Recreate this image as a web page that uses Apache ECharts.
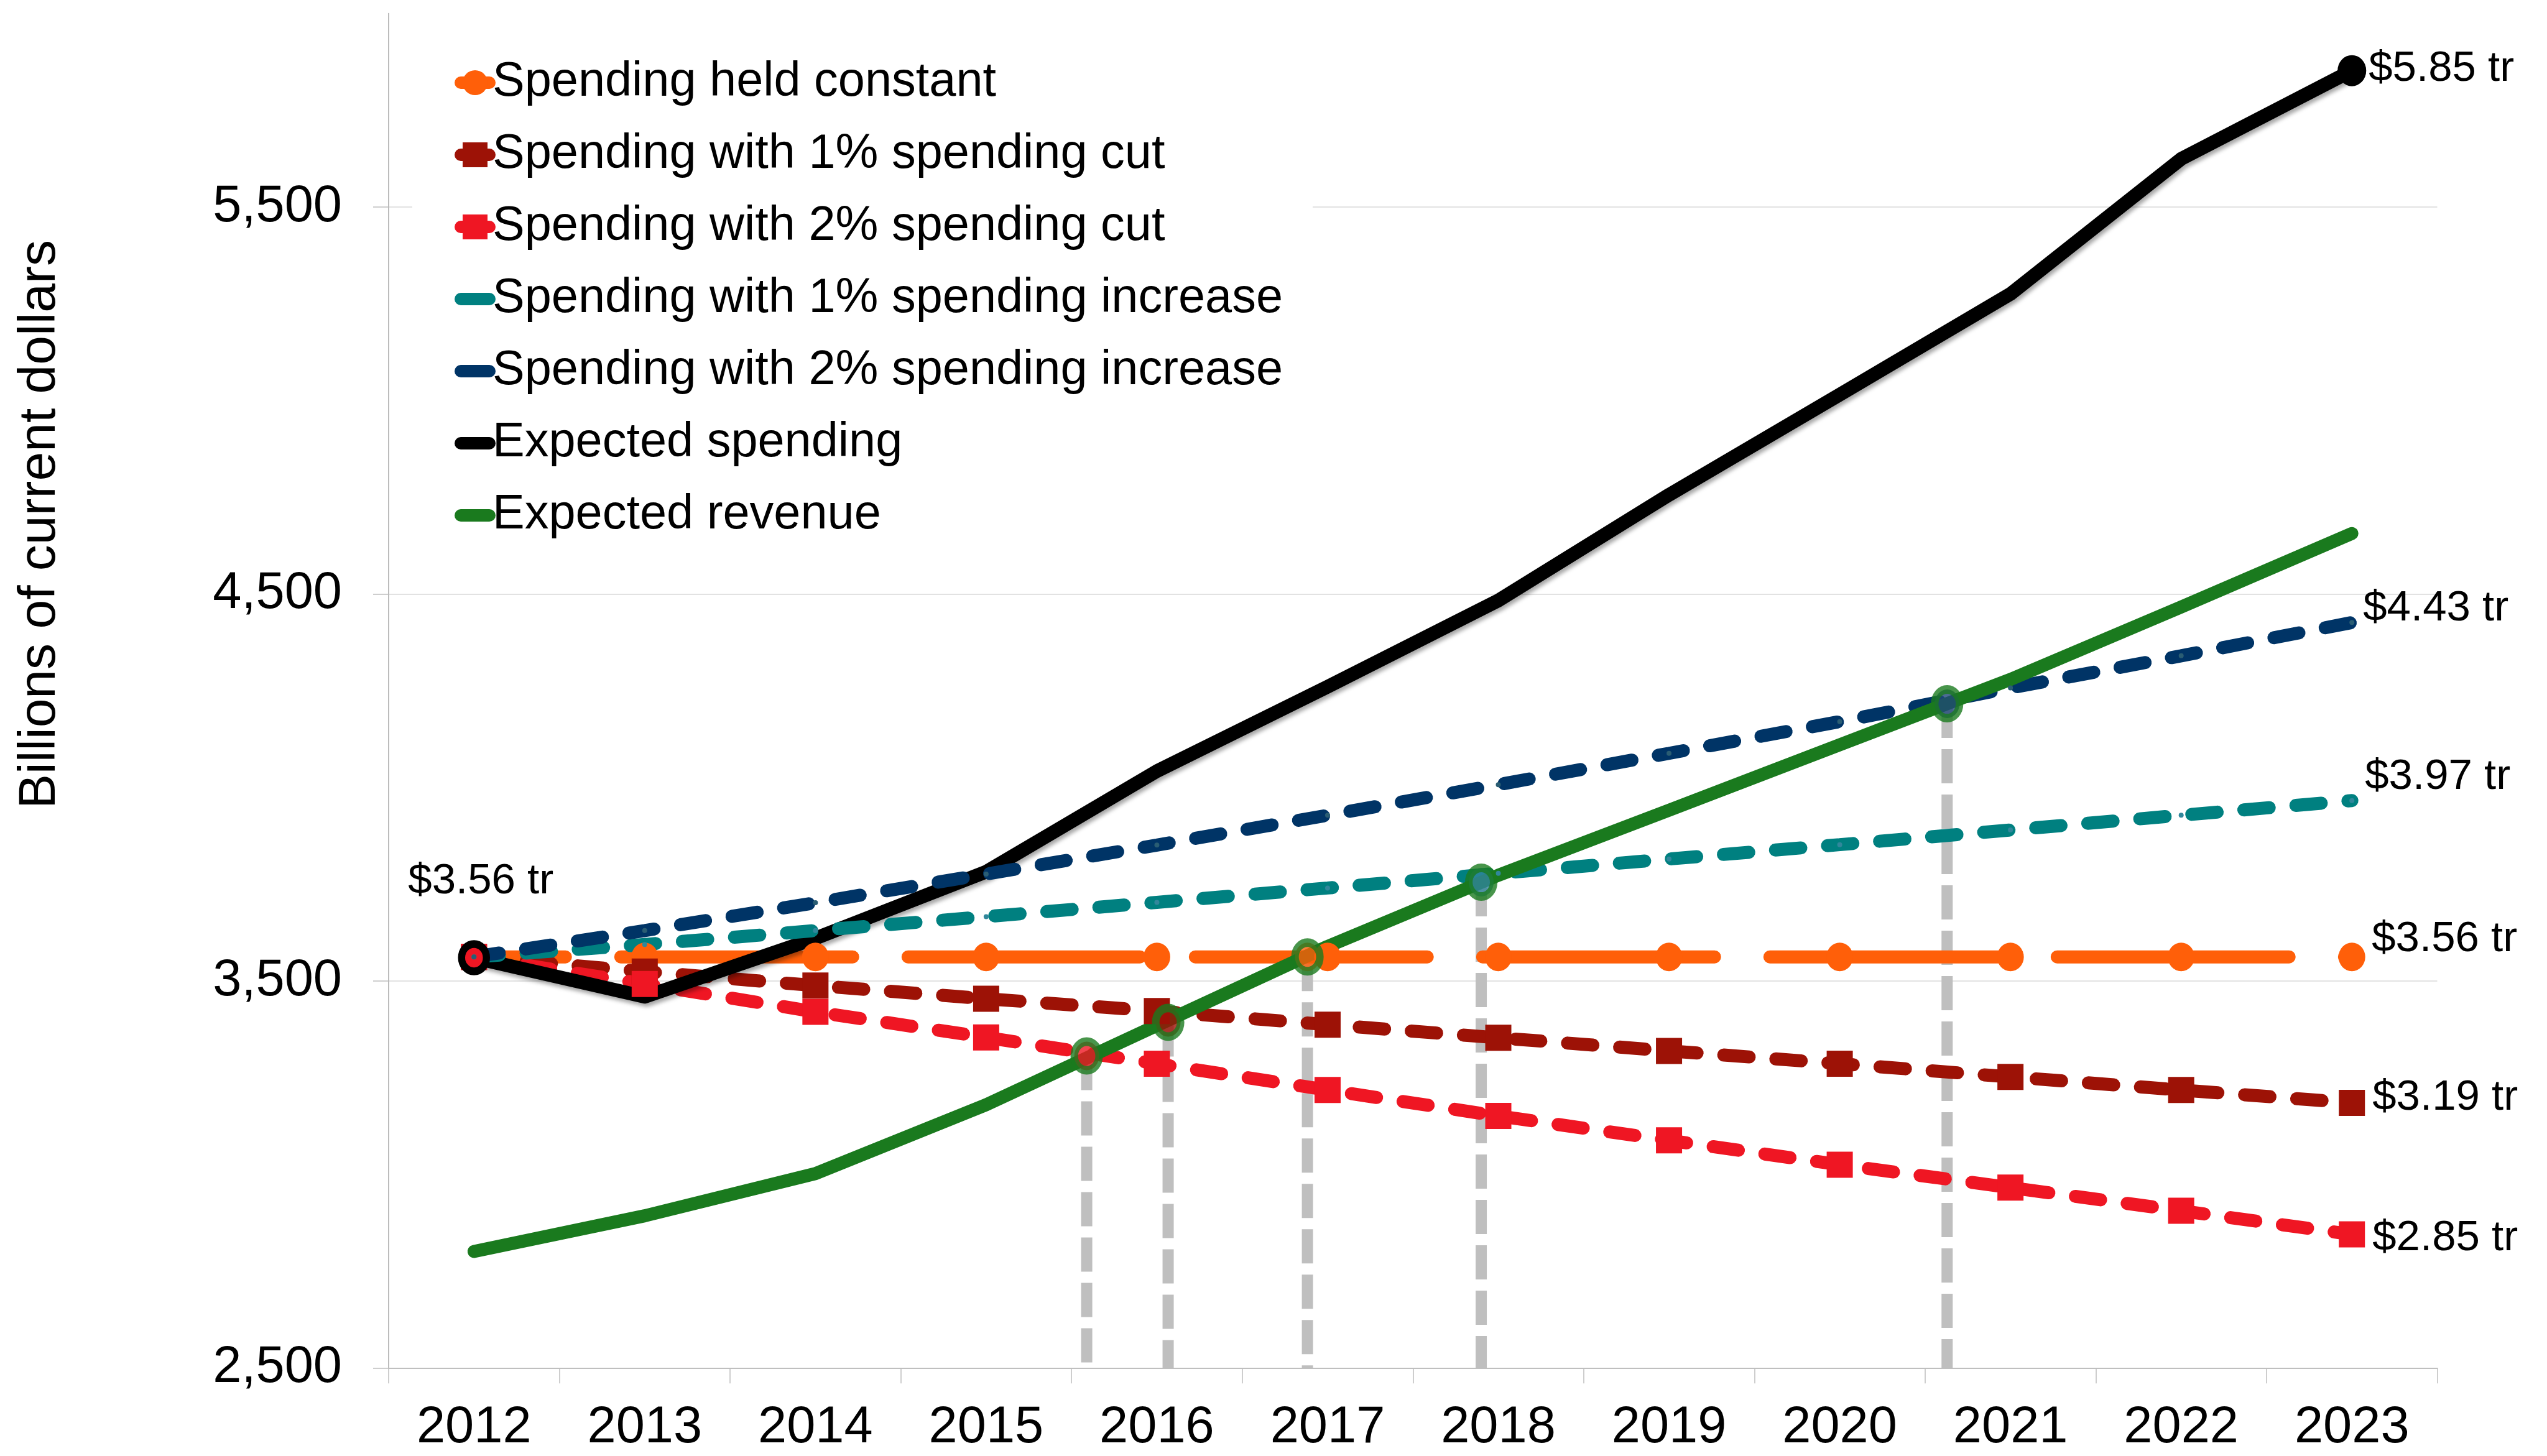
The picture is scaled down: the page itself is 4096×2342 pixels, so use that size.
<!DOCTYPE html>
<html>
<head>
<meta charset="utf-8">
<script src="https://cdn.jsdelivr.net/npm/echarts@6/dist/echarts.min.js"></script>
<style>
html,body{margin:0;padding:0;background:#fff;}
#chart{width:4096px;height:2342px;}
</style>
</head>
<body>
<div id="chart"></div>
<script>
// years on the x axis
var years = ['2012','2013','2014','2015','2016','2017','2018','2019','2020','2021','2022','2023'];

// billions of current dollars
var heldConstant = [3562,3562,3562,3562,3562,3562,3562,3562,3562,3562,3562,3562];
var cut1 = [3562,3524,3488,3454,3422,3387,3353,3319,3286,3252,3218,3185];
var cut2 = [3562,3492,3420,3354,3286,3218,3151,3088,3025,2966,2906,2845];
var inc1 = [3562,3594,3630,3666,3703,3740,3778,3815,3852,3890,3928,3966];
var inc2 = [3562,3630,3702,3776,3851,3928,4007,4088,4170,4257,4340,4426];
var spending = [3560,3459,3610,3782,4042,4260,4483,4756,5015,5275,5624,5852];
var revenue = [2801,2893,3002,3180,3385,3589,3773,3941,4110,4279,4466,4656];

// where revenue crosses each spending path (x in years from 2012)
var crossX = [3.589,4.066,4.882,5.900,8.629];
var crossY = [3306,3393,3562,3755,4216];

var yTicks = [2500,3500,4500,5500];
var endLabels = ['$3.56 tr','$3.19 tr','$2.85 tr','$3.97 tr','$4.43 tr','$5.85 tr'];
var startLabel = '$3.56 tr';

var FONT = '"Liberation Sans", Arial, Helvetica, sans-serif';
var crossFill = ['#ef1623','#9d1206','#ff5f09','#31859c','#1f4778'];

function lbl(text, dx, dy, align){
	return {show:true, formatter:text, position:'inside', align:align||'left', verticalAlign:'middle',
		offset:[dx,dy], color:'#000', fontSize:69, fontFamily:FONT};
}
function withEnd(values, text, dx, dy){
	var d = values.slice();
	var n = d.length-1;
	d[n] = {value:values[n], label:lbl(text,dx,dy)};
	return d;
}

var orangeData = withEnd(heldConstant, endLabels[0], 32, -28);
orangeData[0] = {value:heldConstant[0], label:lbl(startLabel, 11, -121, 'center')};

var blackData = withEnd(spending, endLabels[5], 27, -3);
blackData[0] = {value:spending[0], symbol:'circle', symbolSize:[40,44],
	itemStyle:{color:'rgba(0,0,0,0)', borderColor:'#000', borderWidth:12}};
blackData[11].symbol = 'circle';
blackData[11].symbolSize = [46,50];

var dashShort = [41,43];

var series = [
	{name:'Spending held constant', type:'line', data:orangeData, symbol:'circle', symbolSize:[43,46],
	 itemStyle:{color:'#ff5f09'}, lineStyle:{color:'#ff5f09', width:21, type:[373,89], dashOffset:226, cap:'round'}},
	{name:'Spending with 1% spending cut', type:'line', data:withEnd(cut1, endLabels[1], 33, -8), symbol:'rect', symbolSize:42,
	 itemStyle:{color:'#9d1206'}, lineStyle:{color:'#9d1206', width:21, type:dashShort, cap:'round'}},
	{name:'Spending with 2% spending cut', type:'line', data:withEnd(cut2, endLabels[2], 33, 6), symbol:'rect', symbolSize:42,
	 itemStyle:{color:'#ef1623'}, lineStyle:{color:'#ef1623', width:21, type:dashShort, cap:'round'}},
	{name:'Expected spending', type:'line', data:blackData, symbol:'none',
	 itemStyle:{color:'#000'},
	 lineStyle:{color:'#000', width:22, cap:'round', join:'round',
		shadowColor:'rgba(0,0,0,0.35)', shadowBlur:6, shadowOffsetX:3, shadowOffsetY:5}},
	{name:'Spending with 1% spending increase', type:'line', data:withEnd(inc1, endLabels[3], 21, -38), symbol:'circle', symbolSize:8,
	 itemStyle:{color:'#31879b'}, lineStyle:{color:'#008080', width:21, type:dashShort, cap:'round'}},
	{name:'Spending with 2% spending increase', type:'line', data:withEnd(inc2, endLabels[4], 18, -22), symbol:'circle', symbolSize:8,
	 itemStyle:{color:'#2a5d73'}, lineStyle:{color:'#003466', width:21, type:dashShort, cap:'round'}},
	{name:'Expected revenue', type:'line', data:revenue, symbol:'none',
	 itemStyle:{color:'#1a7a1e'}, lineStyle:{color:'#1a7a1e', width:21, cap:'round', join:'round'}}
];

// grey drop lines from each crossing down to the axis
for (var k=0;k<crossX.length;k++){
	series.push({type:'line', xAxisIndex:1, z:1, silent:true, symbol:'none',
		data:[[crossX[k],crossY[k]],[crossX[k],yTicks[0]]],
		lineStyle:{color:'#bfbfbf', width:18, type:[55,18], cap:'butt'}});
}
var crossData = [];
for (var j=0;j<crossX.length;j++){
	crossData.push({value:[crossX[j],crossY[j]], itemStyle:{color:crossFill[j]}});
}
series.push({type:'scatter', xAxisIndex:1, z:5, silent:true, symbol:'circle', symbolSize:[40,46],
	data:crossData, itemStyle:{borderColor:'#1a7a1e', borderWidth:13}});

var hidden = {opacity:0};
var option = {
	animation:false,
	backgroundColor:'#fff',
	grid:{left:625, right:176.5, top:21.5, bottom:141.7, containLabel:false, outerBoundsMode:'none'},
	legend:{
		orient:'vertical', left:663, top:73,
		padding:[20,48,20,68],
		backgroundColor:'#fff',
		itemWidth:46, itemHeight:50, itemGap:36,
		textStyle:{fontSize:77.5, fontFamily:FONT, color:'#000', lineHeight:80},
		lineStyle:{type:'solid', width:20, cap:'round', shadowBlur:0, shadowOffsetX:0, shadowOffsetY:0},
		data:[
			{name:'Spending held constant'},
			{name:'Spending with 1% spending cut'},
			{name:'Spending with 2% spending cut'},
			{name:'Spending with 1% spending increase', itemStyle:hidden},
			{name:'Spending with 2% spending increase', itemStyle:hidden},
			{name:'Expected spending', itemStyle:hidden},
			{name:'Expected revenue', itemStyle:hidden}
		]
	},
	xAxis:[{
		type:'category', data:years, boundaryGap:true,
		axisLine:{show:true, lineStyle:{color:'#bfbfbf', width:2}},
		axisTick:{show:true, interval:0, length:25, lineStyle:{color:'#bfbfbf', width:1.5}},
		axisLabel:{interval:0, fontSize:83, color:'#000', margin:55, fontFamily:FONT},
		splitLine:{show:false}
	},{
		type:'value', min:-0.5, max:11.5, show:false
	}],
	yAxis:{
		type:'value', min:2500, max:6000, interval:1000,
		axisLine:{show:true, onZero:false, lineStyle:{color:'#a6a6a6', width:1.5}},
		axisTick:{show:true, length:25, customValues:yTicks, lineStyle:{color:'#bfbfbf', width:1.5}},
		axisLabel:{fontSize:83, color:'#000', margin:75, fontFamily:FONT, showMaxLabel:false,
			formatter:function(v){ return v>=6000 ? '' : v.toLocaleString('en-US'); }},
		splitLine:{show:true, lineStyle:{color:['#d9d9d9','#d9d9d9','#d9d9d9','#d9d9d9','rgba(0,0,0,0)'], width:1.5}}
	},
	graphic:[{
		type:'text', x:64.5, y:843.5, rotation:Math.PI/2,
		style:{text:'Billions of current dollars', fontSize:84, fontFamily:FONT, fill:'#000',
			textAlign:'center', textVerticalAlign:'middle'}
	}],
	series:series
};

var myChart = echarts.init(document.getElementById('chart'));
myChart.setOption(option);
</script>
</body>
</html>
